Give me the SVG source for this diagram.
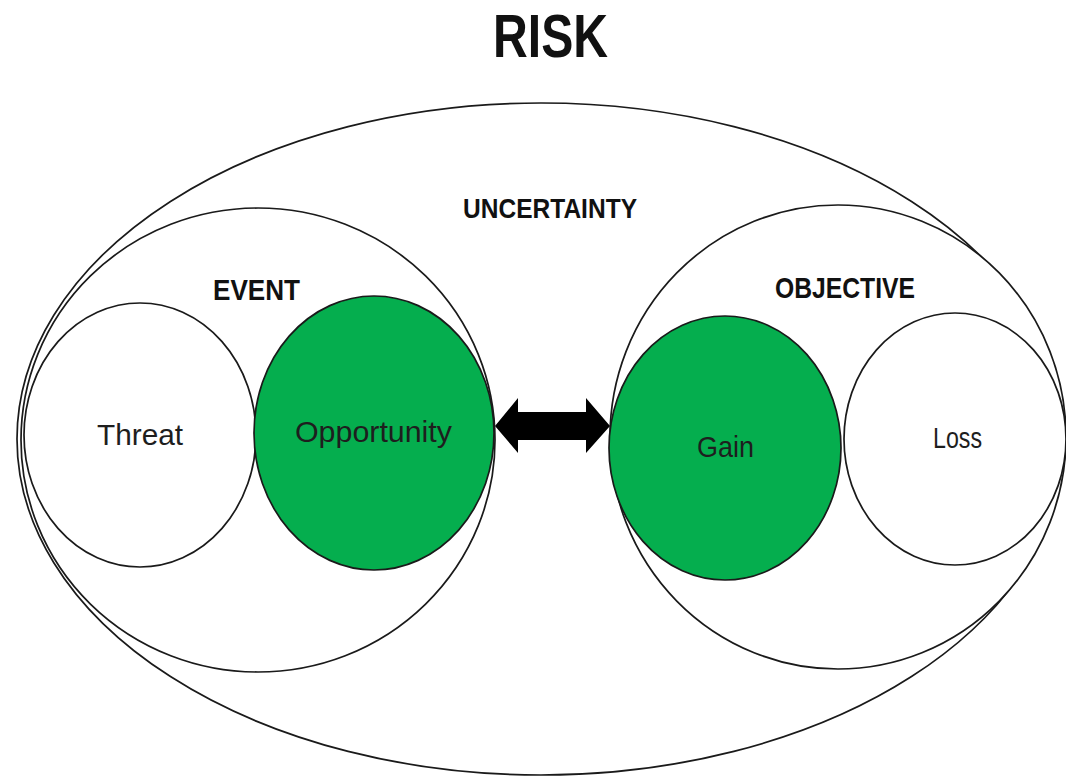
<svg xmlns="http://www.w3.org/2000/svg" width="1066" height="777" viewBox="0 0 1066 777">
  <style>
    .ring { fill: #ffffff; stroke: #1a1a1a; stroke-width: 1.7; }
    .green { fill: #05ae4e; stroke: #1a1a1a; stroke-width: 1.7; }
    .head { font-family: "Liberation Sans", Arial, sans-serif; font-weight: bold; fill: #111111; }
    .label { font-family: "Liberation Sans", Arial, sans-serif; font-size: 30px; fill: #1e1e1e; }
  </style>

  <rect width="1066" height="777" fill="#ffffff"/>

  <g id="title">
    <text class="head" x="493" y="57" font-size="62" textLength="115" lengthAdjust="spacingAndGlyphs">RISK</text>
  </g>

  <g id="uncertainty">
    <ellipse class="ring" cx="541" cy="439" rx="524" ry="336"/>
    <text class="head" x="463" y="218" font-size="28" textLength="174" lengthAdjust="spacingAndGlyphs">UNCERTAINTY</text>
  </g>

  <g id="event">
    <ellipse class="ring" cx="258" cy="440" rx="237" ry="232"/>
    <text class="head" x="213" y="300" font-size="30" textLength="87" lengthAdjust="spacingAndGlyphs">EVENT</text>
  </g>

  <g id="objective">
    <ellipse class="ring" cx="838" cy="437" rx="228" ry="232"/>
    <text class="head" x="775" y="298" font-size="30" textLength="140" lengthAdjust="spacingAndGlyphs">OBJECTIVE</text>
  </g>

  <g id="threat">
    <ellipse class="ring" cx="140" cy="435" rx="116" ry="132"/>
    <text class="label" x="97" y="445" textLength="86" lengthAdjust="spacingAndGlyphs">Threat</text>
  </g>

  <g id="opportunity">
    <ellipse class="green" cx="374" cy="433" rx="120" ry="137"/>
    <text class="label" x="295" y="442" textLength="157" lengthAdjust="spacingAndGlyphs">Opportunity</text>
  </g>

  <g id="gain">
    <ellipse class="green" cx="725" cy="448" rx="116" ry="132"/>
    <text class="label" x="697" y="457" textLength="57" lengthAdjust="spacingAndGlyphs">Gain</text>
  </g>

  <g id="loss">
    <ellipse class="ring" cx="955" cy="439" rx="111" ry="126"/>
    <text class="label" x="933" y="448" textLength="49" lengthAdjust="spacingAndGlyphs">Loss</text>
  </g>

  <g id="connectors">
    <polygon fill="#000000" points="495,426 518,398 518,412 586,412 586,398 610,426 586,453 586,440 518,440 518,453"/>
  </g>
</svg>
